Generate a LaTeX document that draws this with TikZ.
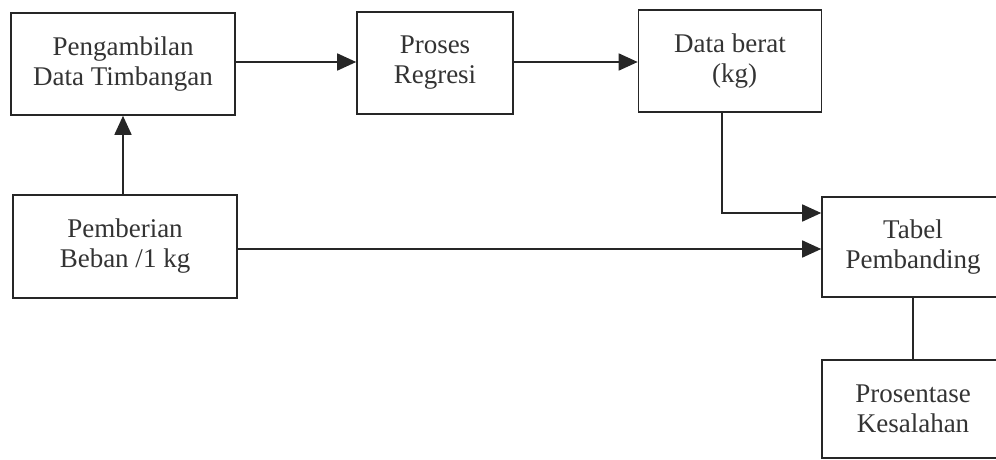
\documentclass[tikz,border=0pt]{standalone}
\usepackage{fontspec}
\setmainfont{Liberation Serif}
\usetikzlibrary{arrows.meta,calc}

\begin{document}
\begin{tikzpicture}[
  x=1pt, y=-1pt,
  box/.style={draw=black!85, line width=1.6pt, minimum width=#1,
    minimum height=102pt, inner sep=0pt, align=center,
    font=\fontsize{27}{30}\selectfont, text=black!80},
  flow/.style={draw=black!85, line width=1.6pt,
    -{Triangle[length=19pt,width=17pt]}},
  link/.style={draw=black!85, line width=1.6pt}
]
\useasboundingbox (0,0) rectangle (996,460);
\clip (0,0) rectangle (996,460);

% top row
\node[box=224pt] (A) at (123,64) {Pengambilan\\Data Timbangan};
\node[box=156pt] (B) at (435,63) {Proses\\Regresi};
\node[box=183pt] (C) at (730,61) {Data berat\\\phantom{(}(kg)};

% lower row
\node[box=224pt, minimum height=103pt] (D) at (125,246.5) {Pemberian\\Beban /1 kg};
\node[box=182pt, minimum height=100pt] (E) at (913,247) {Tabel\\Pembanding};
\node[box=182pt, minimum height=98pt] (F) at (913,409) {Prosentase\\Kesalahan};

% connector end points
\coordinate (aout) at ($(A.east)+(0,-2)$);
\coordinate (bout) at ($(B.east)+(0,-1)$);
\coordinate (dout) at ($(D.east)+(0,2.5)$);
\coordinate (cdrop) at ($(C.south)+(-8,0)$);
\coordinate (ein) at ($(E.west)+(0,-34)$);

% connectors
\draw[flow] (aout) -- (aout -| B.west);
\draw[flow] (bout) -- (bout -| C.west);
\draw[flow] (D.north -| A.south) -- (A.south);
\draw[flow] (cdrop) |- (ein);
\draw[flow] (dout) -- (dout -| E.west);
\draw[link] (E.south) -- (F.north);
\end{tikzpicture}
\end{document}
